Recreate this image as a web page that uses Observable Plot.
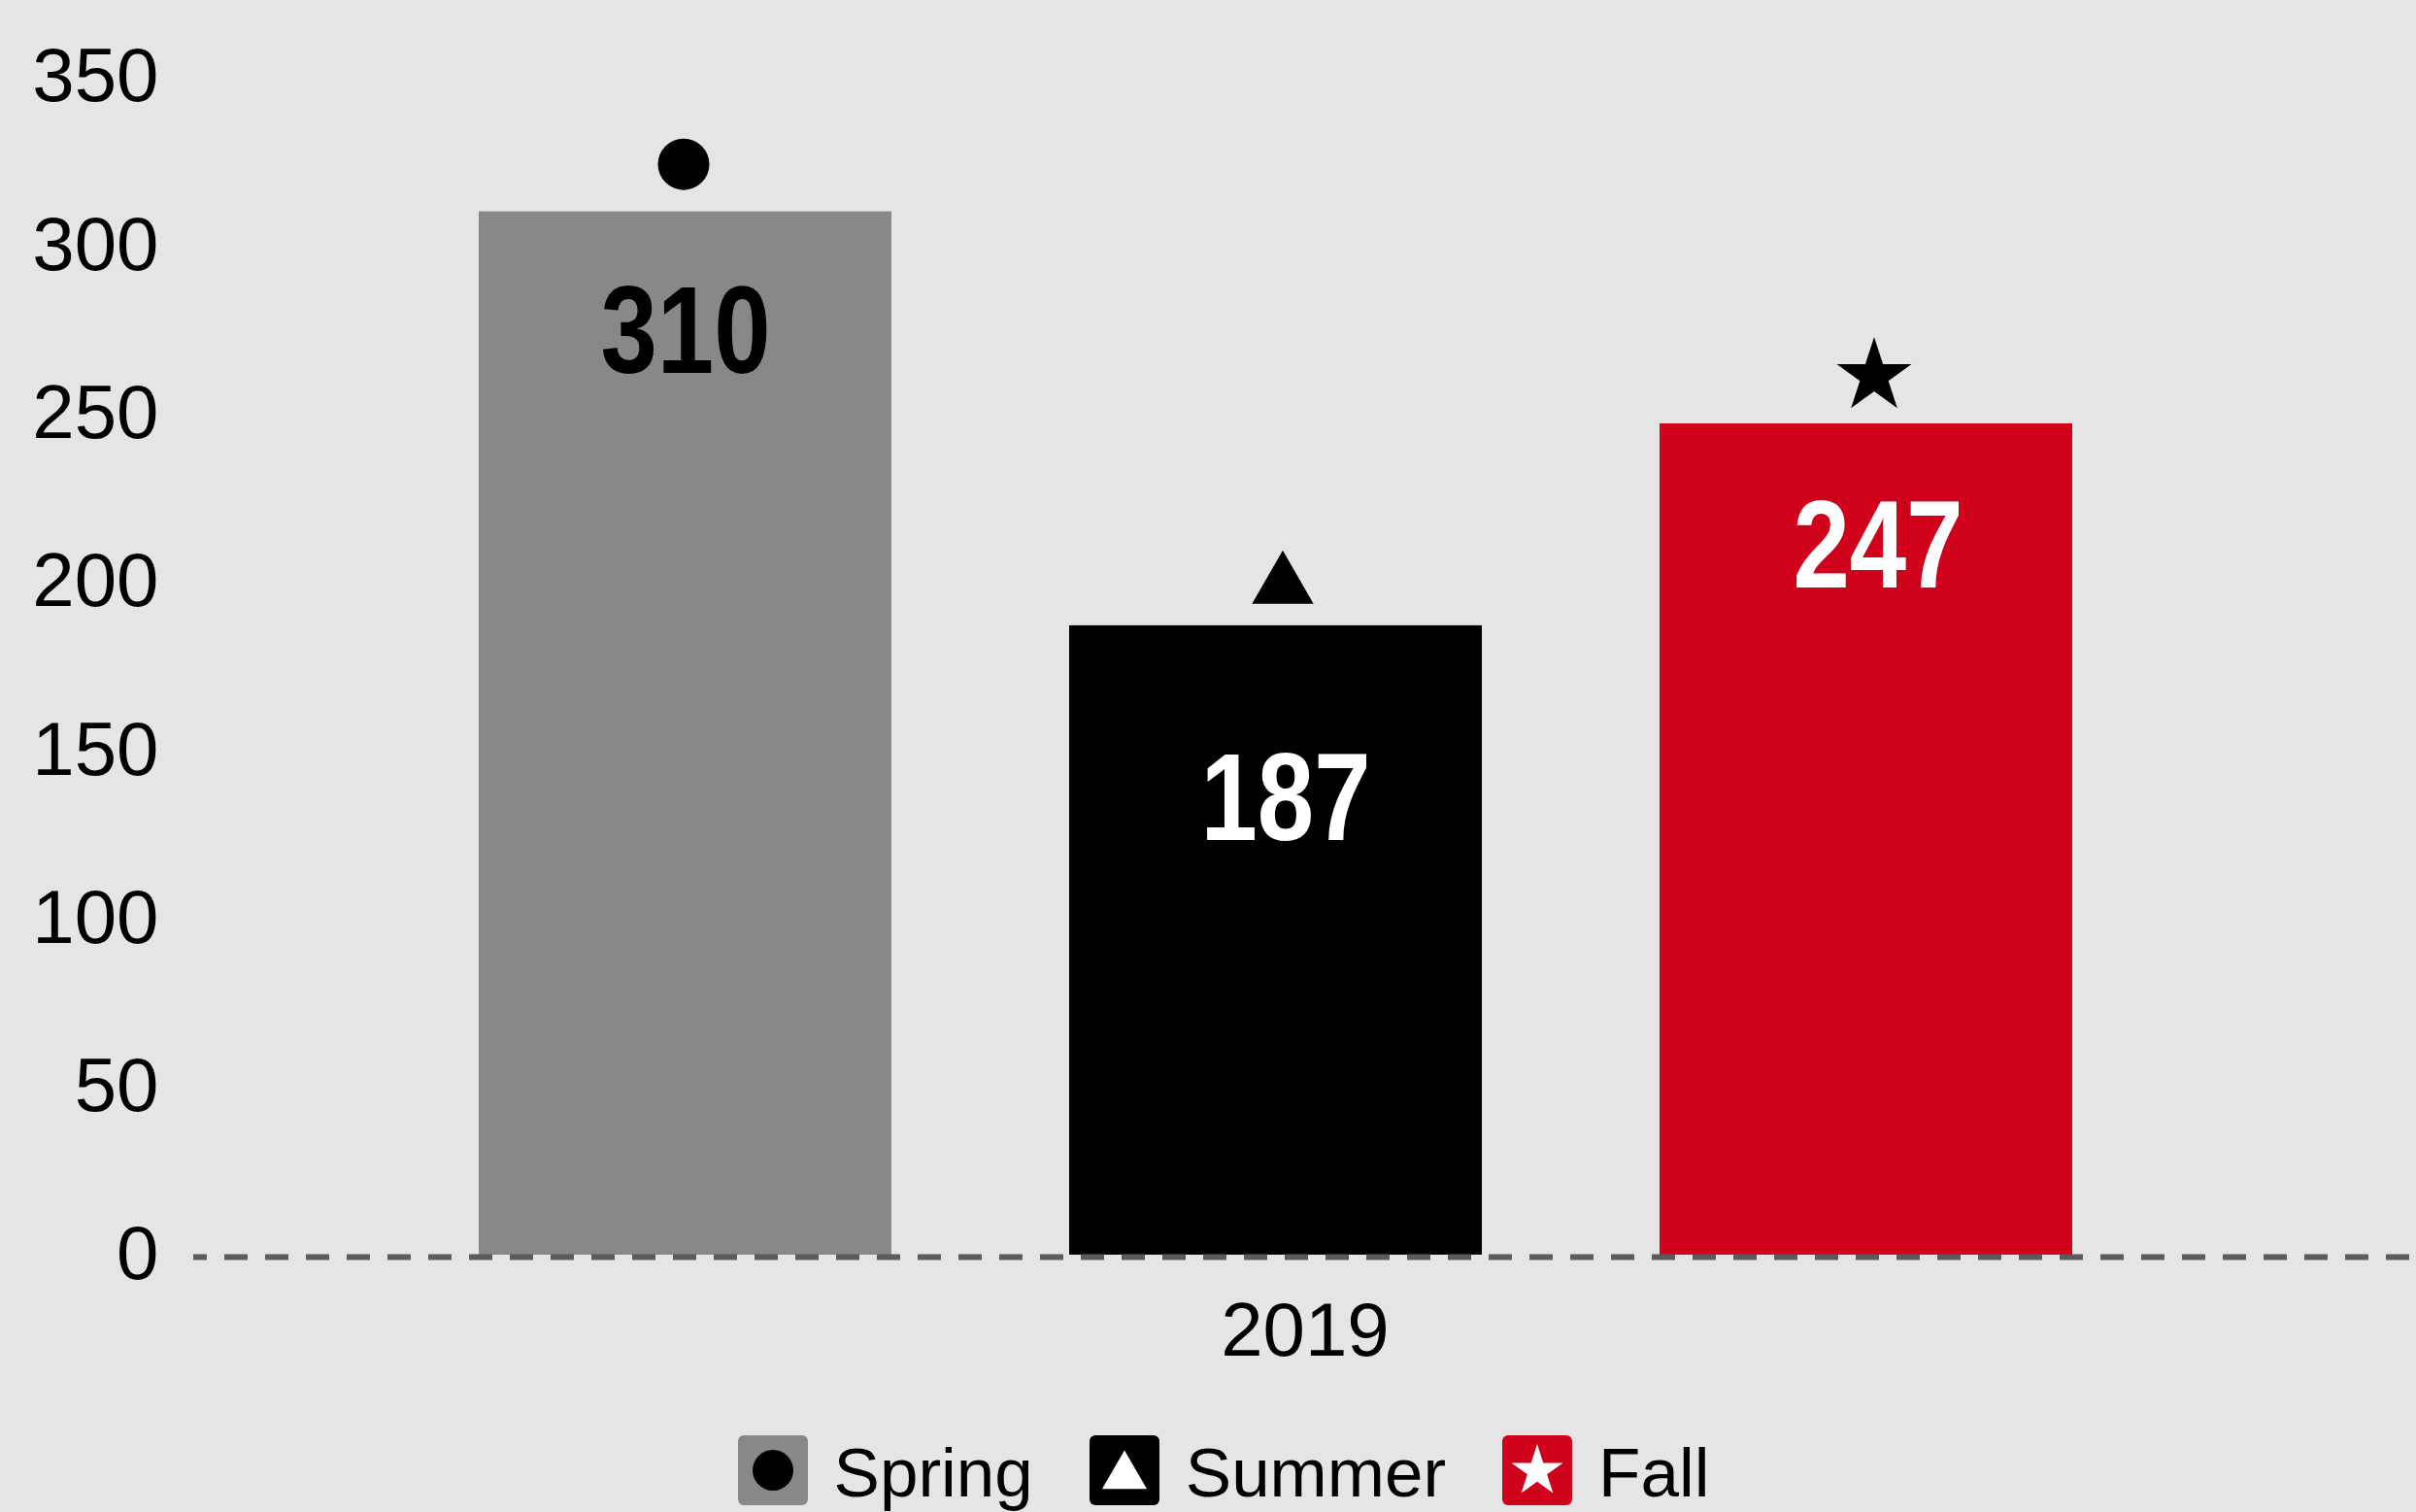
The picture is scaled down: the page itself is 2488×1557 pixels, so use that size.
<!DOCTYPE html>
<html>
<head>
<meta charset="utf-8">
<script src="https://cdn.jsdelivr.net/npm/d3@7"></script>
<script src="https://cdn.jsdelivr.net/npm/@observablehq/plot@0.6"></script>
<style>
  html, body { margin: 0; padding: 0; background: #e5e5e5; }
  body { width: 2488px; height: 1557px; overflow: hidden; font-family: "Liberation Sans", Arial, sans-serif; }
  #chart svg { display: block; }
  #legend { display: flex; justify-content: center; align-items: center; margin-top: 18px; padding-left: 32px; height: 72px; }
  .item { display: flex; align-items: center; margin-right: 58px; }
  .item:last-child { margin-right: 0; }
  .item svg { display: block; margin-right: 27px; }
  .item span { font-size: 71px; color: #000; line-height: 72px; position: relative; top: 3px; }
</style>
</head>
<body>
<div id="chart"></div>
<div id="legend"></div>
<script>
const year = "2019";
const seasons = ["Spring", "Summer", "Fall"];
const values = [310, 187, 247];
const seasonColors = ["#888888", "#000000", "#d0021b"];
const seasonSymbols = ["circle", "triangle", "star"];
const yTicks = [0, 50, 100, 150, 200, 250, 300, 350];

const data = seasons.map((s, i) => ({year, season: s, value: values[i]}));

// marker & label styling (pixel offsets)
const symbolR = {circle: 26.5, triangle: 23.5, star: 24.2};
const symbolDy = {circle: -49, triangle: -41, star: -49};
const symbolDx = {circle: -2, triangle: 7, star: 8};
const labelDy = {Spring: 125, Summer: 180, Fall: 128};
const labelDx = {Spring: 0, Summer: 10, Fall: 12};

const dots = seasons.map((s, i) => Plot.dot(data.filter(d => d.season === s), {
  fx: "year", x: "season", y: "value",
  symbol: seasonSymbols[i], r: symbolR[seasonSymbols[i]], fill: "#000", stroke: "none",
  dy: symbolDy[seasonSymbols[i]], dx: symbolDx[seasonSymbols[i]]
}));

const labels = seasons.map((s, i) => Plot.text(data.filter(d => d.season === s), {
  fx: "year", x: "season", y: "value",
  text: d => String(d.value),
  dy: labelDy[s], dx: labelDx[s],
  fill: s === "Spring" ? "#000" : "#fff",
  fontSize: 128, fontWeight: "bold",
  fontFamily: "'Liberation Sans', Arial, sans-serif"
}));

const chart = Plot.plot({
  width: 2488,
  height: 1460,
  marginTop: 79,
  marginBottom: 168,
  marginLeft: 199,
  marginRight: 0,
  style: {background: "#e5e5e5", fontFamily: "'Liberation Sans', Arial, sans-serif", color: "#000"},
  y: {domain: [0, 350], label: null},
  fx: {padding: 0, label: null},
  x: {domain: seasons, axis: null, paddingInner: 0.301, paddingOuter: 0.532, align: 0.453},
  color: {domain: seasons, range: seasonColors},
  marks: [
    Plot.axisY({ticks: yTicks, tickSize: 0, tickPadding: 36, fontSize: 78, label: null, fill: "#000"}),
    Plot.axisFx({anchor: "bottom", tickSize: 0, tickPadding: 48, fontSize: 78, label: null, fill: "#000"}),
    Plot.barY(data, {fx: "year", x: "season", y: "value", fill: "season"}),
    Plot.ruleY([0], {stroke: "#5b5b5b", strokeWidth: 6, strokeDasharray: "24,18", strokeDashoffset: 10, dy: 2}),
    ...dots,
    ...labels
  ]
});
document.getElementById("chart").appendChild(chart);

// Condense the bold value labels horizontally (narrow bold face look)
chart.querySelectorAll('g[font-size="128"] text').forEach(t => {
  const tr = t.getAttribute("transform");
  if (tr) {
    t.setAttribute("transform", tr + " scale(0.82,1)");
  } else {
    const x = +t.getAttribute("x") || 0, y = +t.getAttribute("y") || 0;
    t.removeAttribute("x"); t.removeAttribute("y");
    t.setAttribute("transform", `translate(${x},${y}) scale(0.82,1)`);
  }
});

// Legend
const legend = d3.select("#legend");
const legendSizes = {circle: 1385, triangle: 920, star: 873};
const legendOffsets = {circle: 36, triangle: 42, star: 37};
seasons.forEach((s, i) => {
  const item = legend.append("div").attr("class", "item");
  const svg = item.append("svg").attr("width", 72).attr("height", 72);
  svg.append("rect").attr("width", 72).attr("height", 72).attr("rx", 6).attr("fill", seasonColors[i]);
  const sym = {circle: d3.symbolCircle, triangle: d3.symbolTriangle, star: d3.symbolStar}[seasonSymbols[i]];
  svg.append("path")
    .attr("d", d3.symbol(sym, legendSizes[seasonSymbols[i]])())
    .attr("transform", `translate(36,${legendOffsets[seasonSymbols[i]]})`)
    .attr("fill", s === "Spring" ? "#000" : "#fff");
  item.append("span").text(s);
});
</script>
</body>
</html>
